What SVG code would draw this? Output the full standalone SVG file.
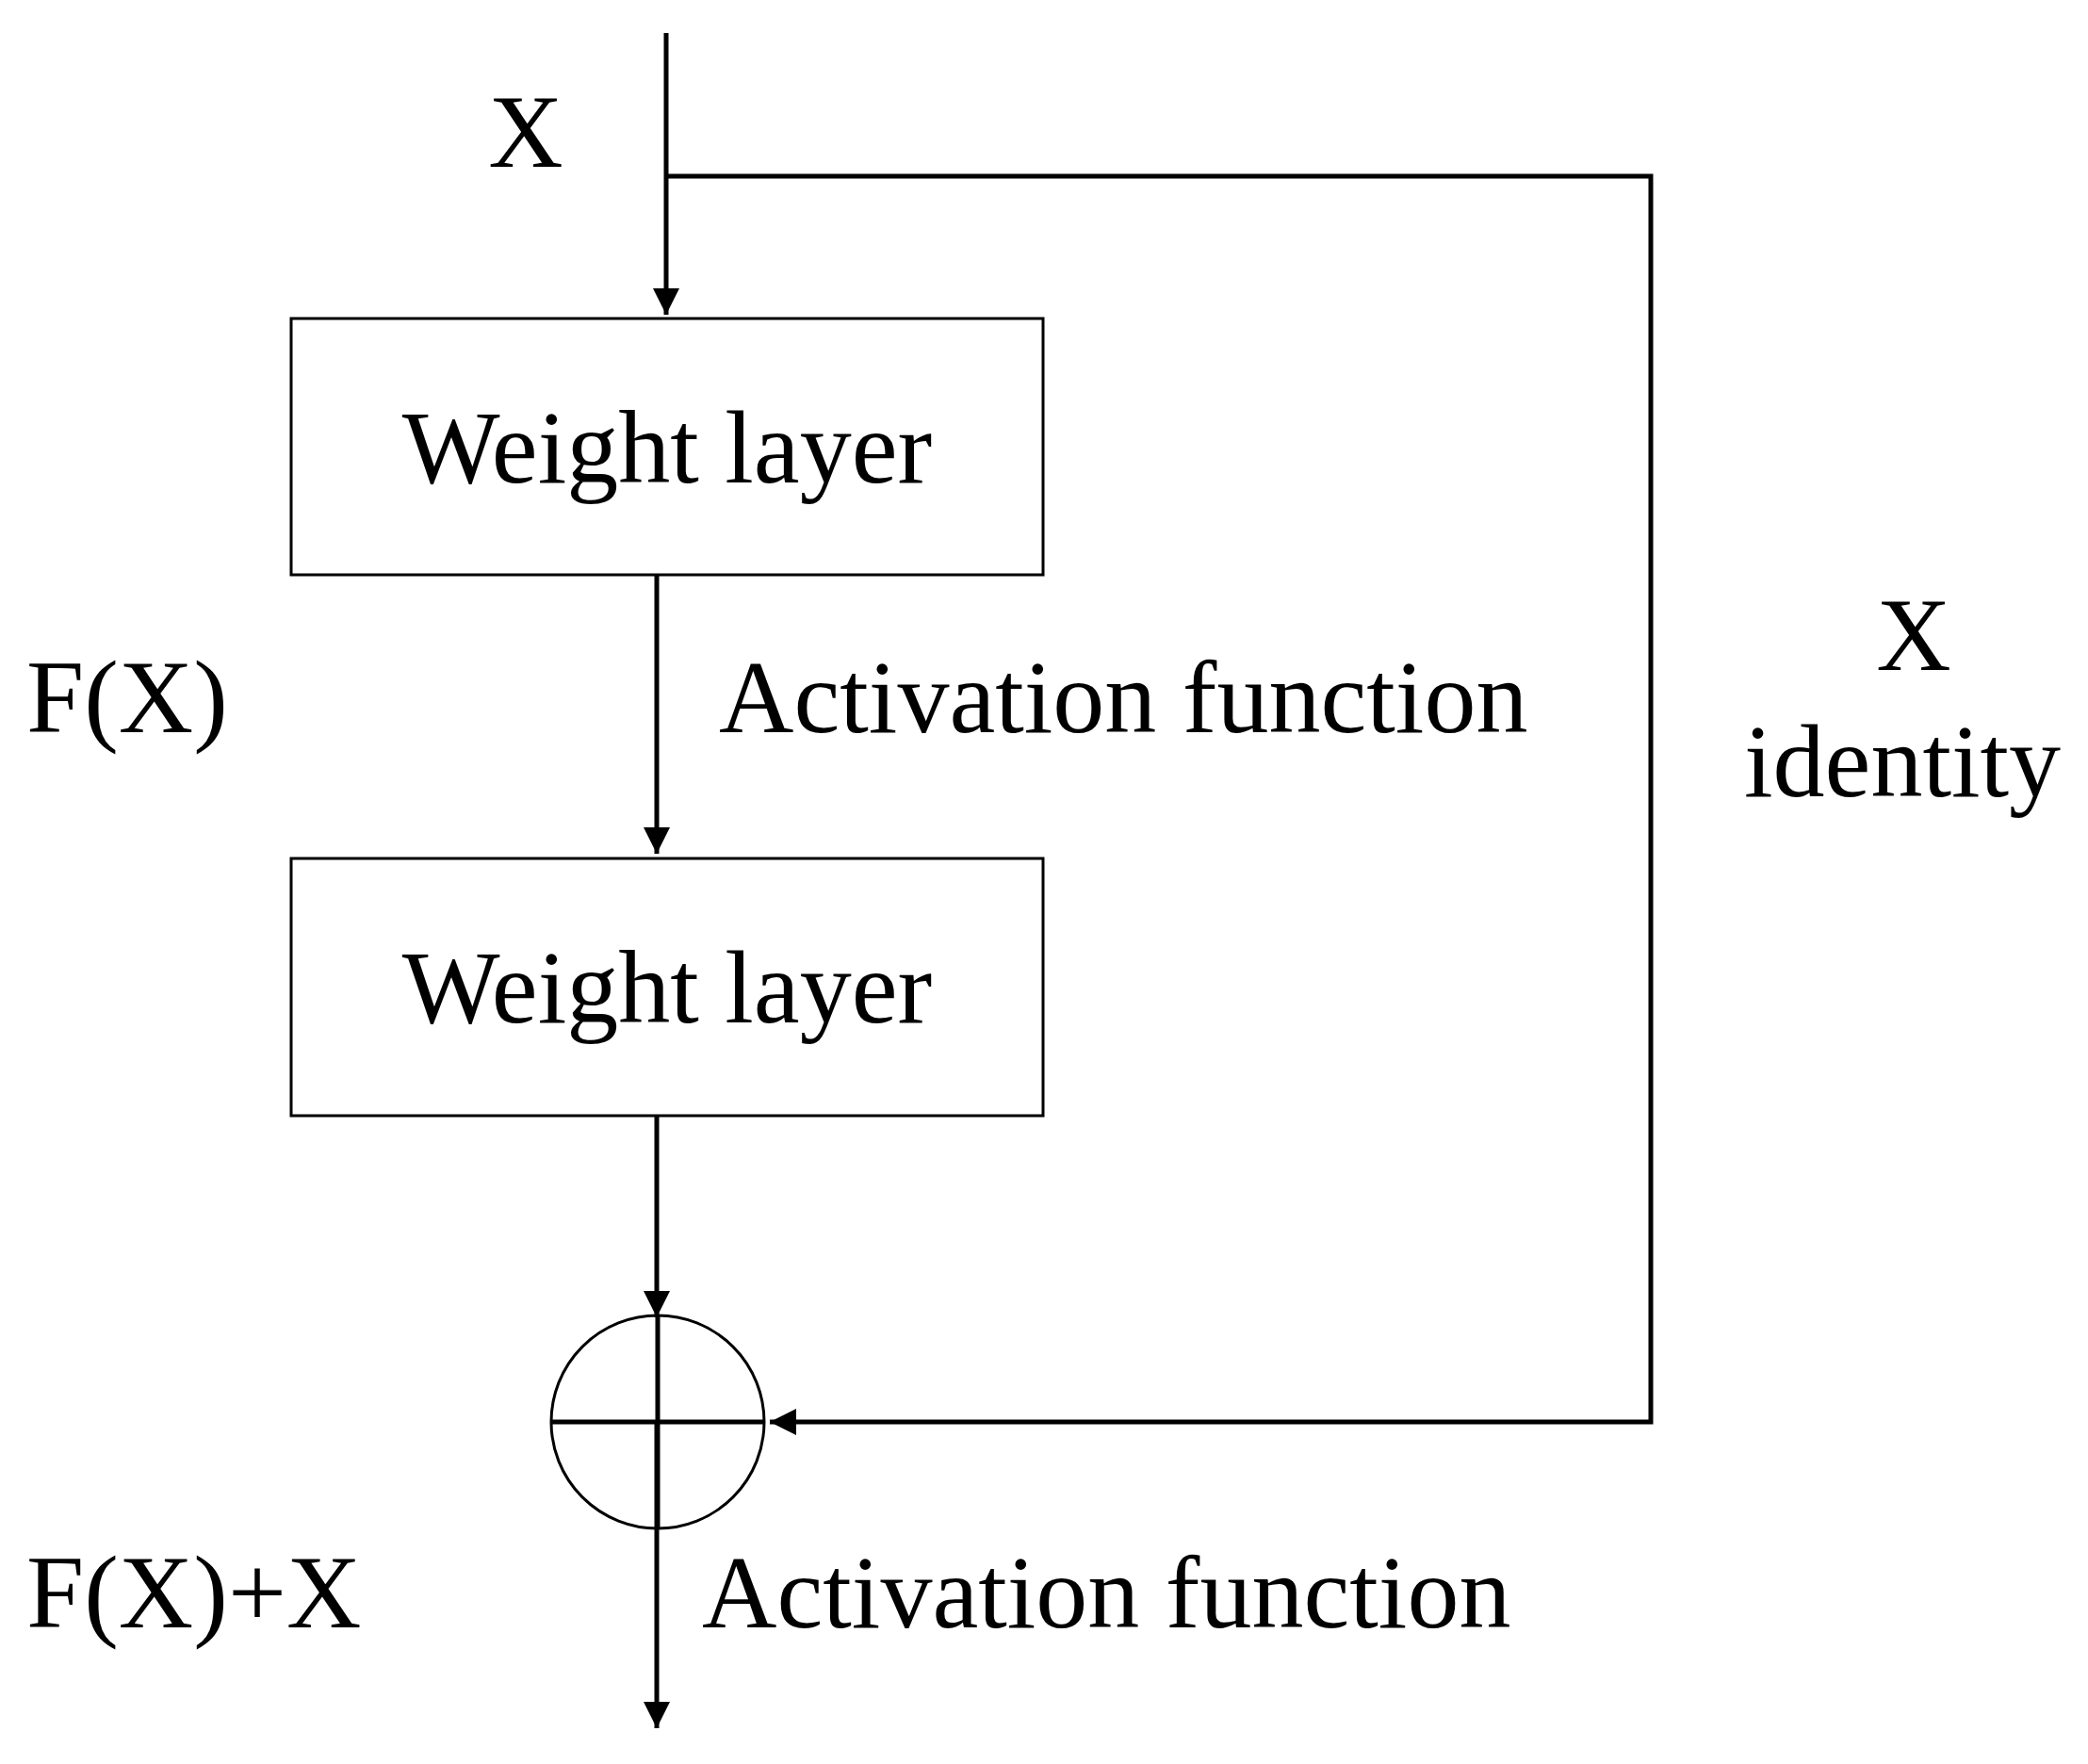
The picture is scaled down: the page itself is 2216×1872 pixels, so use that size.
<svg xmlns="http://www.w3.org/2000/svg" width="2216" height="1872" viewBox="0 0 2216 1872">
<style>
.t{font-family:"Liberation Serif","Times New Roman",serif;font-size:110px;fill:#000}
.ln{stroke:#000;stroke-width:5;fill:none}
.box{stroke:#000;stroke-width:3;fill:#fff}
</style>
<defs><marker id="a" markerWidth="10" markerHeight="10" refX="9" refY="5" orient="auto" markerUnits="userSpaceOnUse" viewBox="0 0 10 10"><path d="M0,0 L10,5 L0,10 z" fill="#000"/></marker>
<marker id="ah" viewBox="0 0 10 10" refX="10" refY="5" markerWidth="34" markerHeight="28" markerUnits="userSpaceOnUse" orient="auto"><path d="M0,0 L10,5 L0,10 z" fill="#000"/></marker></defs>
<rect width="2216" height="1872" fill="#fff"/>
<g id="connectors">
<path class="ln" d="M707,35 V334" marker-end="url(#ah)"/>
<path class="ln" d="M707,187 H1752 V1509 H817" marker-end="url(#ah)"/>
<path class="ln" d="M697,610 V906" marker-end="url(#ah)"/>
<path class="ln" d="M697,1184 V1398" marker-end="url(#ah)"/>
<path class="ln" d="M697,1509 V1834" marker-end="url(#ah)"/>
</g>
<g id="box1"><rect class="box" x="309" y="338" width="798" height="272"/><text class="t" x="708" y="512" text-anchor="middle">Weight layer</text></g>
<g id="box2"><rect class="box" x="309" y="911" width="798" height="273"/><text class="t" x="708" y="1085" text-anchor="middle">Weight layer</text></g>
<g id="sum"><circle cx="698" cy="1509" r="113" fill="none" stroke="#000" stroke-width="3"/><path class="ln" d="M585,1509 H811 M698,1396 V1622"/></g>
<g id="labels">
<text class="t" x="558" y="177" text-anchor="middle">X</text>
<text class="t" x="28" y="777">F(X)</text>
<text class="t" x="763" y="777">Activation function</text>
<text class="t" x="2031" y="711" text-anchor="middle">X</text>
<text class="t" x="1851" y="845">identity</text>
<text class="t" x="28" y="1727">F(X)+X</text>
<text class="t" x="745" y="1727">Activation function</text>
</g>
</svg>
